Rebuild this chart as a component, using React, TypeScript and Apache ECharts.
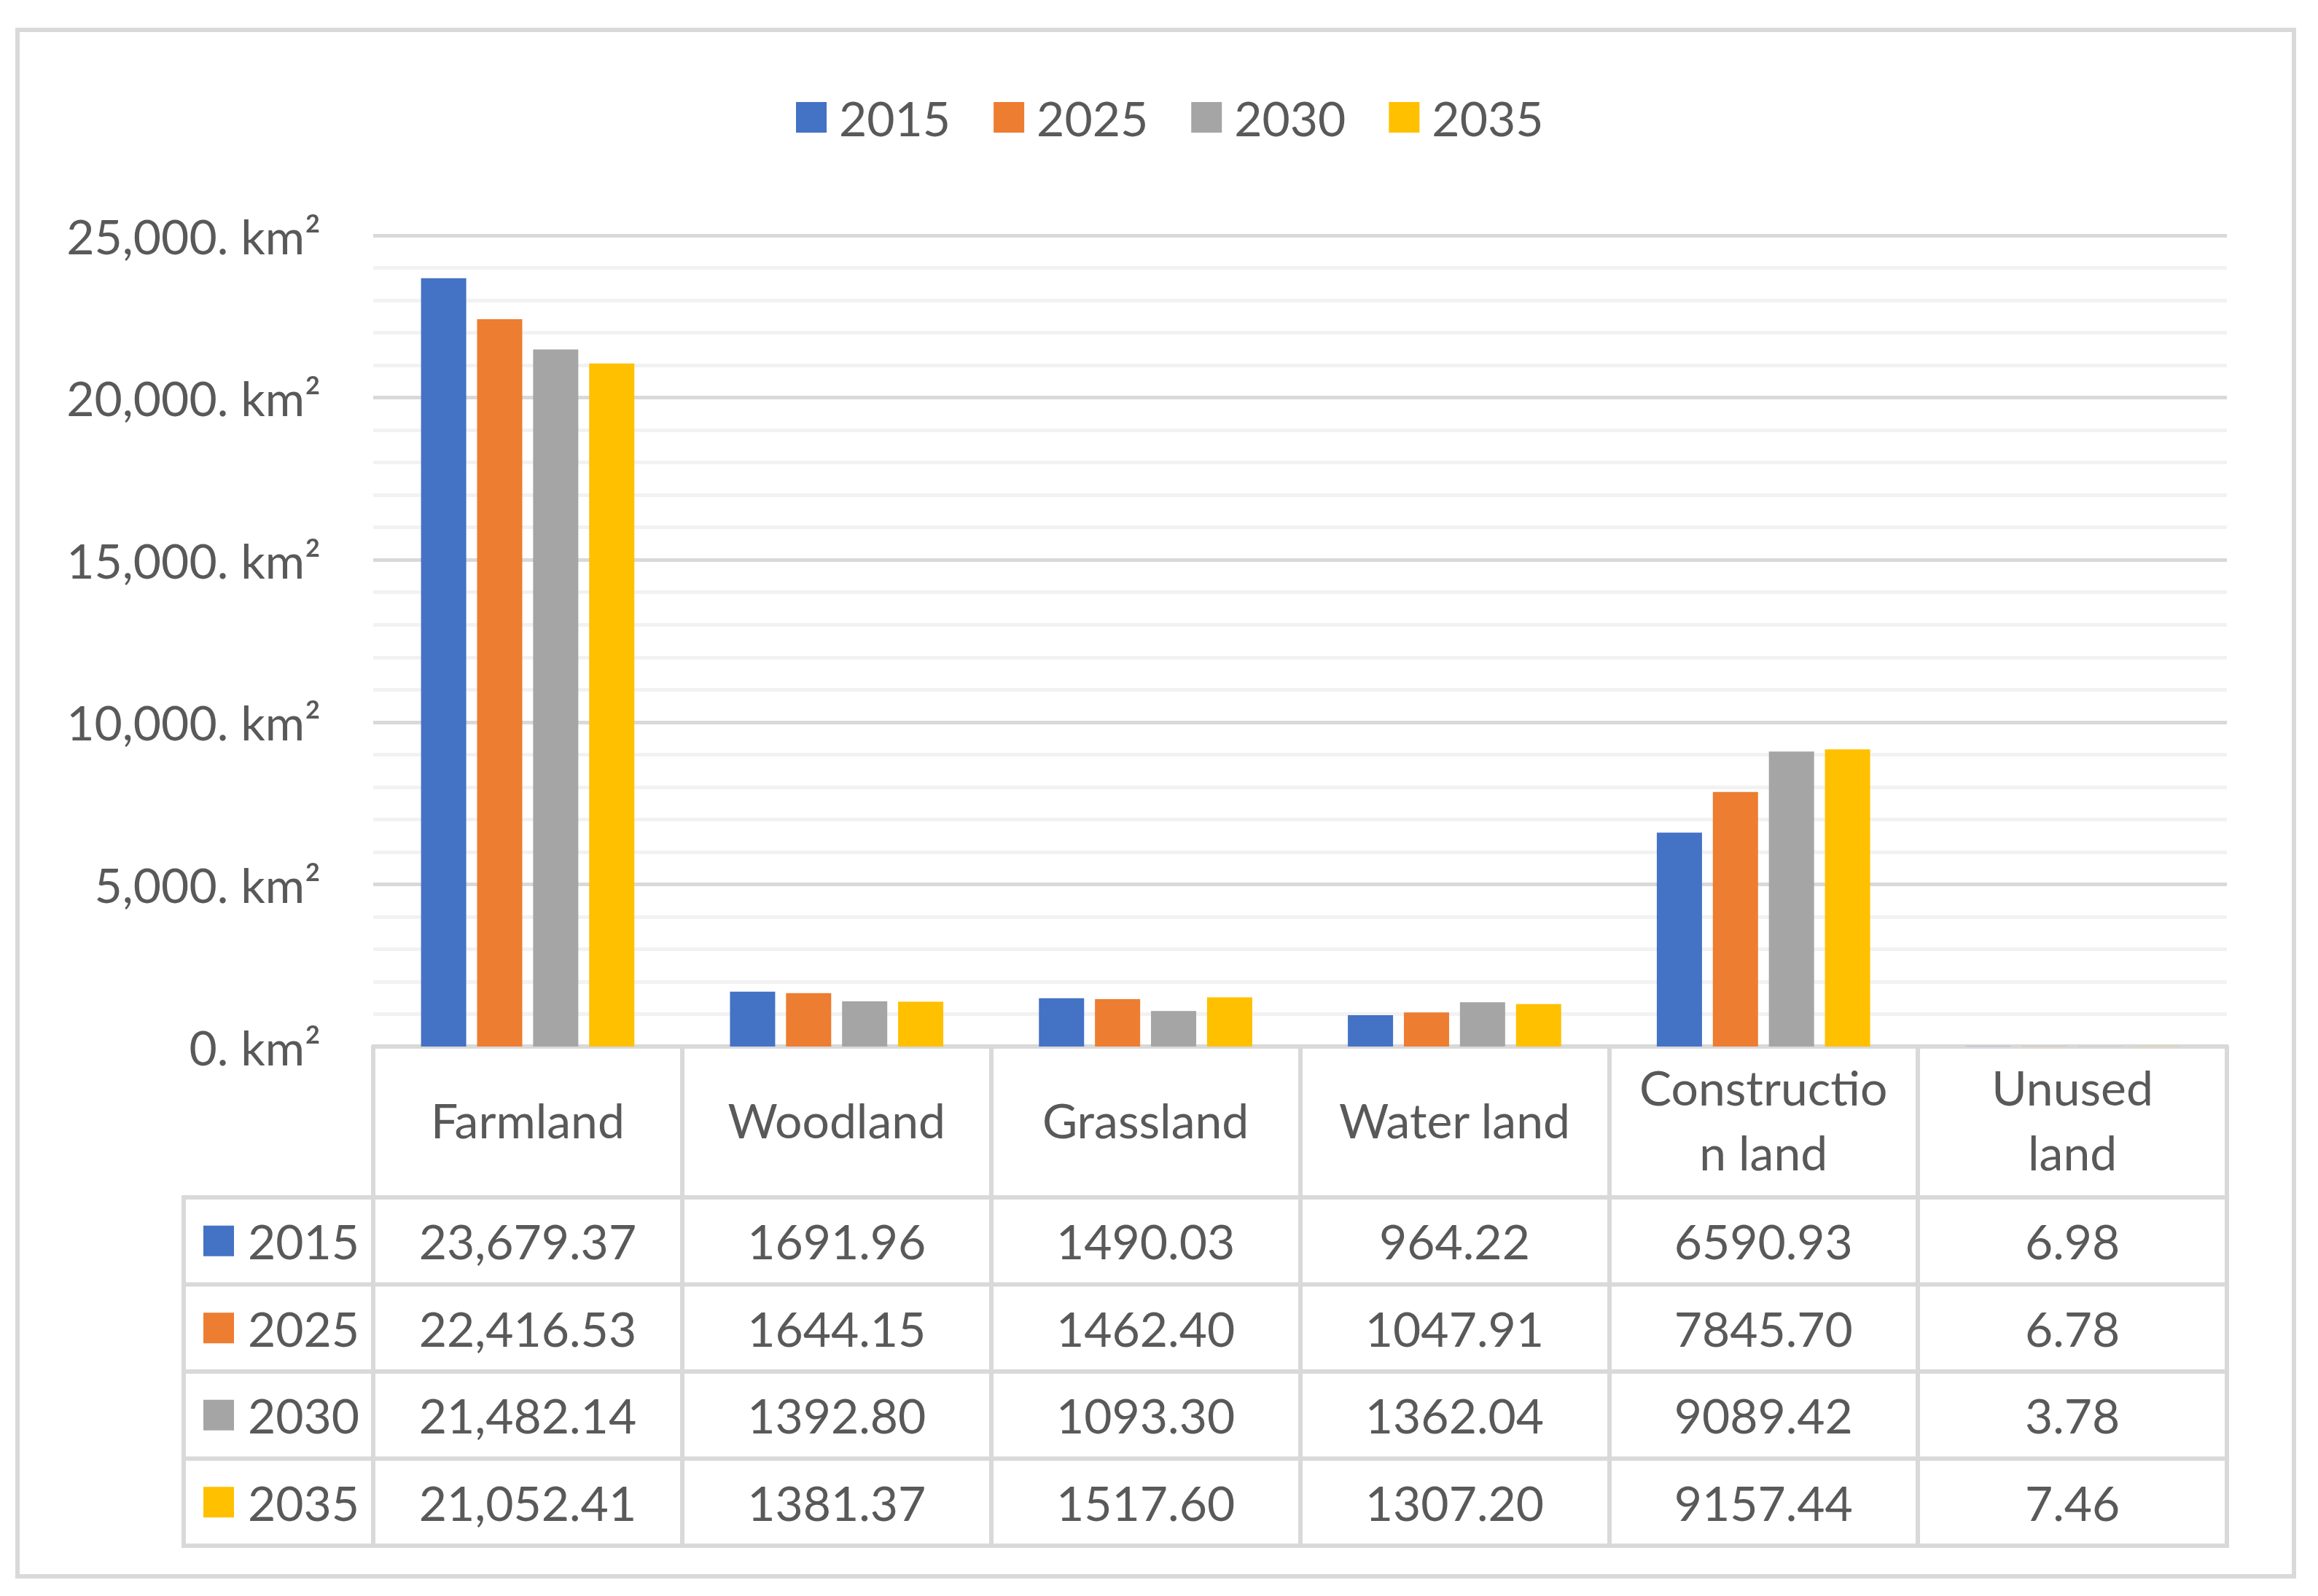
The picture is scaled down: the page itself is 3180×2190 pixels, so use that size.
import React, { useEffect, useRef } from "react";
import * as echarts from "echarts";

const categories = ["Farmland", "Woodland", "Grassland", "Water land", "Construction land", "Unused land"];
const categoryLabels = ["Farmland", "Woodland", "Grassland", "Water land", "Constructio\nn land", "Unused\nland"];
const years = ["2015", "2025", "2030", "2035"];
const values2015 = [23679.37, 1691.96, 1490.03, 964.22, 6590.93, 6.98];
const values2025 = [22416.53, 1644.15, 1462.4, 1047.91, 7845.7, 6.78];
const values2030 = [21482.14, 1392.8, 1093.3, 1362.04, 9089.42, 3.78];
const values2035 = [21052.41, 1381.37, 1517.6, 1307.2, 9157.44, 7.46];
const thousandsSeparator = [true, false, false, false, false, false];
const yMin = 0;
const yMax = 25000;
const yInterval = 5000;
const seriesColors = ["#4472C4", "#ED7D31", "#A5A5A5", "#FFC000"];

const allValues = [values2015, values2025, values2030, values2035];

const W = 3180;
const H = 2190;
const GRID_LEFT = 512;
const GRID_RIGHT_X = 3055;
const GRID_TOP = 323;
const AXIS_Y = 1436;
const HEADER_BOTTOM = 1643;
const TABLE_BOTTOM = 2121;
const TABLE_LEFT = 252;
const FONT = "Lato, 'Open Sans', sans-serif";
const TEXT_COLOR = "#595959";
const LINE_COLOR = "#d9d9d9";
const FS = 66;

function fmt(v: number, sep: boolean): string {
  const s = v.toFixed(2);
  if (!sep) return s;
  const [i, d] = s.split(".");
  return i.replace(/\B(?=(\d{3})+(?!\d))/g, ",") + "." + d;
}

export default function App() {
  const ref = useRef<HTMLDivElement>(null);
  useEffect(() => {
    if (!ref.current) return;
    const chart = echarts.init(ref.current, undefined, { renderer: "svg" });
    const option: any = {
      animation: false,
      backgroundColor: "#ffffff",
      textStyle: { fontFamily: FONT },
      legend: {
        data: years,
        left: 1087,
        top: 123,
        itemWidth: 42,
        itemHeight: 42,
        itemGap: 59,
        icon: "rect",
        textStyle: { fontFamily: FONT, fontSize: FS, color: TEXT_COLOR, lineHeight: 42, padding: [0, 0, 0, 12] },
      },
      grid: { left: GRID_LEFT, right: W - GRID_RIGHT_X, top: GRID_TOP, bottom: H - AXIS_Y },
      xAxis: {
        type: "category",
        data: categoryLabels,
        axisLine: { show: true, lineStyle: { color: LINE_COLOR, width: 6 } },
        axisTick: { show: true, length: TABLE_BOTTOM - AXIS_Y, lineStyle: { color: LINE_COLOR, width: 6 } },
        axisLabel: {
          interval: 0,
          margin: 100,
          verticalAlign: "middle",
          lineHeight: 89,
          fontSize: FS,
          fontFamily: FONT,
          color: TEXT_COLOR,
        },
      },
      yAxis: {
        type: "value",
        min: yMin,
        max: yMax,
        interval: yInterval,
        axisLine: { show: false },
        axisTick: { show: false },
        axisLabel: {
          margin: 72,
          fontSize: FS,
          fontFamily: FONT,
          color: TEXT_COLOR,
          formatter: (v: number) => v.toLocaleString("en-US") + ". km²",
        },
        splitLine: { show: true, lineStyle: { color: LINE_COLOR, width: 5 } },
        minorTick: { show: false, splitNumber: 5 },
        minorSplitLine: { show: true, lineStyle: { color: "#f2f2f2", width: 5 } },
      },
      series: years.map((y, i) => ({
        name: y,
        type: "bar",
        data: allValues[i],
        barWidth: 62,
        barGap: "24%",
        itemStyle: { color: seriesColors[i] },
      })),
    };
    chart.setOption(option);

    const centers = categories.map((_, j) => chart.convertToPixel({ xAxisIndex: 0 }, j) as number);
    const rowH = (TABLE_BOTTOM - HEADER_BOTTOM) / years.length;
    const graphic: any[] = [];
    graphic.push({
      type: "rect",
      shape: { x: 24, y: 41, width: 3123, height: 2122 },
      style: { fill: "none", stroke: LINE_COLOR, lineWidth: 6 },
      silent: true,
    });
    for (let r = 0; r <= years.length; r++) {
      const y = HEADER_BOTTOM + r * rowH;
      graphic.push({
        type: "line",
        shape: { x1: TABLE_LEFT, y1: y, x2: GRID_RIGHT_X + 3, y2: y },
        style: { stroke: LINE_COLOR, lineWidth: 6 },
        silent: true,
      });
    }
    graphic.push({
      type: "line",
      shape: { x1: TABLE_LEFT, y1: HEADER_BOTTOM - 3, x2: TABLE_LEFT, y2: TABLE_BOTTOM + 3 },
      style: { stroke: LINE_COLOR, lineWidth: 6 },
      silent: true,
    });
    years.forEach((yr, r) => {
      const cy = HEADER_BOTTOM + (r + 0.5) * rowH;
      graphic.push({
        type: "rect",
        shape: { x: 279, y: cy - 21, width: 42, height: 42 },
        style: { fill: seriesColors[r] },
        silent: true,
      });
      graphic.push({
        type: "text",
        x: 340,
        y: cy,
        style: {
          text: yr,
          fontSize: FS,
          fontFamily: FONT,
          fill: TEXT_COLOR,
          textAlign: "left",
          textVerticalAlign: "middle",
        },
        silent: true,
      });
      centers.forEach((cx, j) => {
        graphic.push({
          type: "text",
          x: cx,
          y: cy,
          style: {
            text: fmt(allValues[r][j], thousandsSeparator[j]),
            fontSize: FS,
            fontFamily: FONT,
            fill: TEXT_COLOR,
            textAlign: "center",
            textVerticalAlign: "middle",
          },
          silent: true,
        });
      });
    });
    chart.setOption({ graphic });

    return () => chart.dispose();
  }, []);
  return <div ref={ref} style={{ position: "absolute", left: 0, top: 0, width: W, height: H }} />;
}
